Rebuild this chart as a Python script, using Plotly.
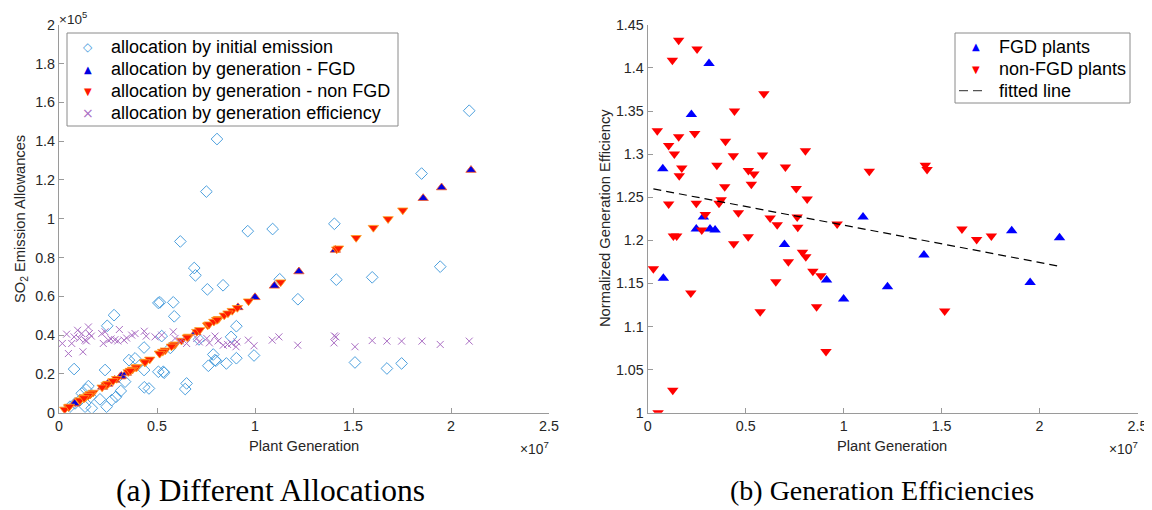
import plotly.graph_objects as go

# The page body adds an 8px margin, so the figure is drawn 8px in and shrunk to fit.
OX, OY = 8, 8
W, H = 1152 - OX, 510 - OY

# ---------------- data (x: plant generation in 1e7; left y in 1e5) ----------------
init_x = [0.281, 0.246, 0.077, 0.235, 0.357, 0.388, 0.434, 0.434, 0.435, 0.459,
          0.337, 0.315, 0.291, 0.269, 0.243, 0.209, 0.150, 0.138, 0.116, 0.162,
          0.167, 0.107, 0.082, 0.056, 0.133, 0.507, 0.507, 0.532, 0.619, 0.963,
          0.690, 0.696, 0.757, 0.837, 0.583, 0.588, 0.515, 0.905, 0.878, 0.995,
          0.905, 0.787, 0.796, 0.854, 0.762, 0.714, 0.651, 0.644, 0.536, 0.568,
          0.524, 1.405, 1.945, 1.126, 1.415, 1.598, 1.219, 1.510, 1.673, 1.748,
          2.093, 1.850, 0.806, 0.752, 1.090, 0.801]
init_y = [0.503, 0.448, 0.225, 0.220, 0.271, 0.280, 0.336, 0.220, 0.131, 0.125,
          0.160, 0.112, 0.082, 0.065, 0.031, 0.069, 0.137, 0.120, 0.100, 0.082,
          0.023, 0.065, 0.048, 0.031, 0.031, 0.566, 0.211, 0.211, 0.883, 0.936,
          0.746, 0.708, 0.636, 0.657, 0.569, 0.497, 0.569, 0.446, 0.391, 0.295,
          0.281, 0.300, 0.271, 0.254, 0.242, 0.378, 0.151, 0.122, 0.206, 0.334,
          0.395, 0.974, 0.753, 0.688, 0.686, 0.698, 0.585, 0.259, 0.228, 0.254,
          1.557, 1.233, 1.411, 1.140, 0.947, 0.268]

fgd_x = [0.313, 0.223, 0.077, 0.284, 1.099, 0.248, 0.318, 0.344, 0.698, 0.913,
         1.000, 0.080, 1.858, 2.102, 1.410, 1.224, 1.952]
fgd_alloc = [0.186, 0.133, 0.046, 0.169, 0.654, 0.148, 0.189, 0.205, 0.415, 0.543,
             0.595, 0.048, 1.106, 1.251, 0.839, 0.728, 1.161]
fgd_eff = [1.405, 1.346, 1.283, 1.227, 1.227, 1.213, 1.213, 1.212, 1.195, 1.154,
           1.132, 1.156, 1.211, 1.203, 1.183, 1.146, 1.151]

nonfgd_x = [0.049, 0.158, 0.126, 0.252, 0.158, 0.240, 0.107, 0.136, 0.174, 0.161,
            0.107, 0.248, 0.294, 0.397, 0.443, 0.353, 0.437, 0.393, 0.375, 0.364,
            0.463, 0.593, 0.586, 0.514, 0.542, 0.529, 0.703, 0.805, 0.758, 0.814,
            0.625, 0.763, 1.131, 1.417, 1.426, 0.276, 0.661, 0.766, 0.967, 0.131,
            0.148, 0.439, 0.513, 0.029, 0.220, 0.574, 0.654, 0.718, 0.790, 0.807,
            0.843, 0.884, 0.862, 0.910, 0.128, 0.053, 1.604, 1.679, 1.754, 1.516]
nonfgd_alloc = [0.029, 0.094, 0.075, 0.150, 0.094, 0.143, 0.064, 0.081, 0.104, 0.096,
                0.064, 0.148, 0.175, 0.236, 0.264, 0.210, 0.260, 0.234, 0.223, 0.217,
                0.275, 0.353, 0.349, 0.306, 0.322, 0.315, 0.418, 0.479, 0.451, 0.484,
                0.372, 0.454, 0.673, 0.843, 0.848, 0.164, 0.393, 0.456, 0.575, 0.078,
                0.088, 0.261, 0.305, 0.017, 0.131, 0.342, 0.389, 0.427, 0.470, 0.480,
                0.502, 0.526, 0.513, 0.541, 0.076, 0.032, 0.954, 0.999, 1.044, 0.902]
nonfgd_eff = [1.327, 1.432, 1.409, 1.422, 1.320, 1.324, 1.310, 1.300, 1.284, 1.275,
              1.242, 1.243, 1.230, 1.315, 1.350, 1.287, 1.298, 1.262, 1.247, 1.243,
              1.232, 1.370, 1.299, 1.281, 1.277, 1.265, 1.285, 1.304, 1.260, 1.248,
              1.226, 1.227, 1.280, 1.287, 1.282, 1.212, 1.218, 1.215, 1.219, 1.205,
              1.205, 1.196, 1.204, 1.167, 1.139, 1.117, 1.152, 1.175, 1.186, 1.181,
              1.164, 1.159, 1.123, 1.071, 1.026, 1.000, 1.213, 1.201, 1.205, 1.118]

eff_x = [0.017, 0.048, 0.039, 0.065, 0.077, 0.095, 0.104, 0.122, 0.116, 0.133,
         0.150, 0.155, 0.165, 0.140, 0.218, 0.235, 0.226, 0.252, 0.265, 0.285,
         0.308, 0.300, 0.332, 0.345, 0.371, 0.388, 0.435, 0.445, 0.490, 0.524,
         0.583, 0.592, 0.620, 0.651, 0.703, 0.716, 0.754, 0.767, 0.796, 0.812,
         0.838, 0.860, 0.881, 0.903, 0.908, 0.966, 0.995, 1.088, 1.122, 1.218,
         1.405, 1.413, 1.403, 1.510, 1.598, 1.673, 1.748, 1.852, 1.945, 2.093]
eff_y = [0.357, 0.305, 0.405, 0.357, 0.391, 0.425, 0.383, 0.314, 0.408, 0.374,
         0.442, 0.408, 0.395, 0.370, 0.408, 0.417, 0.357, 0.374, 0.380, 0.376,
         0.429, 0.370, 0.374, 0.385, 0.400, 0.408, 0.420, 0.395, 0.391, 0.400,
         0.417, 0.383, 0.370, 0.357, 0.383, 0.365, 0.383, 0.360, 0.395, 0.370,
         0.348, 0.352, 0.357, 0.340, 0.365, 0.374, 0.345, 0.374, 0.391, 0.348,
         0.396, 0.391, 0.360, 0.340, 0.372, 0.369, 0.369, 0.369, 0.352, 0.369]

fit_x = [0.029, 2.102]
fit_y = [1.2596, 1.1699]

x_ticks = [0, 0.5, 1, 1.5, 2, 2.5]
left_y_ticks = [0, 0.2, 0.4, 0.6, 0.8, 1, 1.2, 1.4, 1.6, 1.8, 2]
right_y_ticks = [1, 1.05, 1.1, 1.15, 1.2, 1.25, 1.3, 1.35, 1.4, 1.45]

left_legend = ["allocation by initial emission", "allocation by generation - FGD",
               "allocation by generation - non FGD", "allocation by generation efficiency"]
right_legend = ["FGD plants", "non-FGD plants", "fitted line"]

# ---------------- styles ----------------
FONT = "Liberation Sans"
AX = "#9a9a9a"
TXT = "#262626"
C_DIA = "rgb(77,160,222)"
C_FGD_L = "rgb(0,0,225)"
C_NON_L = "rgb(255,25,0)"
C_EFF = "rgb(170,110,195)"
C_FGD_R = "rgb(0,0,255)"
C_NON_R = "rgb(255,0,0)"


def fx(px):
    return (px - OX) / W


def fy(py):
    return 1 - (py - OY) / H


fig = go.Figure()

fig.add_trace(go.Scatter(
    x=init_x, y=init_y, mode="markers", name=left_legend[0],
    marker=dict(symbol="diamond-open", size=9, color=C_DIA, line=dict(width=1)),
    xaxis="x", yaxis="y"))
fig.add_trace(go.Scatter(
    x=fgd_x, y=fgd_alloc, mode="markers", name=left_legend[1],
    marker=dict(symbol="triangle-up", size=9, color=C_FGD_L,
                line=dict(width=0.8, color="rgb(255,90,30)")),
    xaxis="x", yaxis="y"))
fig.add_trace(go.Scatter(
    x=nonfgd_x, y=nonfgd_alloc, mode="markers", name=left_legend[2],
    marker=dict(symbol="triangle-down", size=9, color=C_NON_L,
                line=dict(width=0.8, color="rgb(255,160,30)")),
    xaxis="x", yaxis="y"))
fig.add_trace(go.Scatter(
    x=eff_x, y=eff_y, mode="markers", name=left_legend[3],
    marker=dict(symbol="x-thin-open", size=7, color=C_EFF, line=dict(width=1)),
    xaxis="x", yaxis="y"))

fig.add_trace(go.Scatter(
    x=fgd_x, y=fgd_eff, mode="markers", name=right_legend[0],
    marker=dict(symbol="triangle-up", size=10, color=C_FGD_R),
    xaxis="x2", yaxis="y2"))
fig.add_trace(go.Scatter(
    x=nonfgd_x, y=nonfgd_eff, mode="markers", name=right_legend[1],
    marker=dict(symbol="triangle-down", size=10, color=C_NON_R),
    xaxis="x2", yaxis="y2"))
fig.add_trace(go.Scatter(
    x=fit_x, y=fit_y, mode="lines", name=right_legend[2],
    line=dict(color="black", width=1.2, dash="8px,5px"),
    xaxis="x2", yaxis="y2"))


def axis(domain, rng, tickvals, anchor):
    return dict(domain=domain, range=rng, tickvals=tickvals, anchor=anchor,
                showgrid=False, zeroline=False, showline=True, linecolor=AX,
                linewidth=1.2, ticks="inside", ticklen=5, tickcolor=AX, tickwidth=1,
                tickfont=dict(family=FONT, size=14.3, color=TXT), mirror=False,
                automargin=False)


ydom = [fy(412.7), fy(24.8)]
fig.update_layout(
    width=W, height=H, margin=dict(l=0, r=0, t=0, b=0, autoexpand=False),
    paper_bgcolor="white", plot_bgcolor="white",
    font=dict(family=FONT, color=TXT),
    xaxis=axis([fx(59), fx(549)], [0, 2.5], x_ticks, "y"),
    yaxis=axis(ydom, [0, 2], left_y_ticks, "x"),
    xaxis2=axis([fx(647.7), fx(1137.5)], [0, 2.5], x_ticks, "y2"),
    yaxis2=axis(ydom, [1, 1.45], right_y_ticks, "x2"),
    showlegend=False,
)


def ann(text, x, y, size, xanchor="center", yanchor="middle", angle=0, family=FONT, color=TXT):
    fig.add_annotation(text=text, x=fx(x), y=fy(y), xref="paper", yref="paper",
                       xanchor=xanchor, yanchor=yanchor, textangle=angle, showarrow=False,
                       font=dict(family=family, size=size, color=color))


# ---------------- legends (boxes, symbols and labels) ----------------
def legend_box(x0, y0, x1, y1):
    fig.add_shape(type="rect", xref="paper", yref="paper", x0=fx(x0), x1=fx(x1),
                  y0=fy(y1), y1=fy(y0), line=dict(color="#8a8a8a", width=1),
                  fillcolor="white", layer="above")


legend_box(67, 33, 398, 126)
left_rows = [46.7, 69.3, 91.2, 113.3]
left_syms = [("◇", C_DIA, 12), ("▲", C_FGD_L, 10), ("▼", C_NON_L, 10), ("×", C_EFF, 14)]
for row, (sym, col, sz), label in zip(left_rows, left_syms, left_legend):
    ann(sym, 88, row, sz, family="DejaVu Sans", color=col)
    ann(label, 109, row, 18, xanchor="left", color="black")

legend_box(955, 33, 1130, 103)
right_rows = [46.7, 69.3, 90.7]
ann("▲", 975.7, right_rows[0], 10, family="DejaVu Sans", color=C_FGD_R)
ann("▼", 975.7, right_rows[1], 10, family="DejaVu Sans", color=C_NON_R)
fig.add_shape(type="line", xref="paper", yref="paper", x0=fx(959), x1=fx(987),
              y0=fy(right_rows[2]), y1=fy(right_rows[2]),
              line=dict(color="#555555", width=1.2, dash="9px,5px"), layer="above")
for row, label in zip(right_rows, right_legend):
    ann(label, 996.7, row, 18, xanchor="left", color="black")

# ---------------- axis titles, exponents, captions ----------------
ann("Plant Generation", 304, 446, 14.7)
ann("Plant Generation", 892, 446, 14.7)
ann("SO<sub>2</sub> Emission Allowances", 21, 219, 14.7, angle=-90)
ann("Normalized Generation Efficiency", 605, 218, 14.7, angle=-90)
ann("×10<sup>5</sup>", 57, 18, 13.5, xanchor="left")
ann("×10<sup>7</sup>", 551, 448, 13.8, xanchor="right")
ann("×10<sup>7</sup>", 1140, 448, 13.8, xanchor="right")
ann("(a) Different Allocations", 270, 490, 31.5, family="Liberation Serif", color="black")
ann("(b) Generation Efficiencies", 882, 490, 28, family="Liberation Serif", color="black")

fig.write_html("out.html")
